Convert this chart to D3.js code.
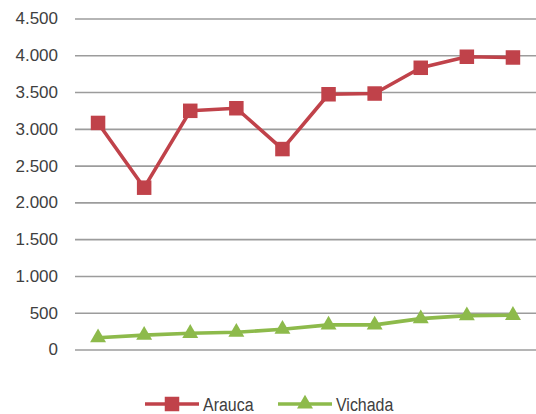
<!DOCTYPE html>
<html>
<head>
<meta charset="utf-8">
<script src="https://cdn.jsdelivr.net/npm/d3@7"></script>
<style>
  html, body { margin: 0; padding: 0; background: #fff; }
  svg { display: block; }
  text { font-family: "Liberation Sans", Arial, sans-serif; fill: #404040; }
</style>
</head>
<body>
<svg id="chart" width="536" height="414"></svg>
<script>
// Data
const categories = ["1", "2", "3", "4", "5", "6", "7", "8", "9", "10"];
const arauca  = [3080, 2200, 3245, 3280, 2725, 3470, 3480, 3830, 3980, 3970];
const vichada = [160, 195, 220, 235, 275, 335, 335, 420, 460, 465];
const yTicks = [0, 500, 1000, 1500, 2000, 2500, 3000, 3500, 4000, 4500];
const seriesNames = ["Arauca", "Vichada"];

const svg = d3.select("#chart");
const margin = { left: 75, right: 0, top: 18.5, bottom: 64.5 };
const W = 536, H = 414;

const x = d3.scalePoint()
  .domain(categories)
  .range([margin.left, W - margin.right])
  .padding(0.5);

const y = d3.scaleLinear()
  .domain([0, 4500])
  .range([H - margin.bottom, margin.top]);

const fmt = d3.formatLocale({ decimal: ",", thousands: ".", grouping: [3], currency: ["$", ""] }).format(",d");

// Horizontal gridlines + tick labels
const yAxis = d3.axisLeft(y)
  .tickValues(yTicks)
  .tickSize(-(W - margin.left - margin.right))
  .tickPadding(17)
  .tickFormat(fmt);

const gy = svg.append("g")
  .attr("transform", `translate(${margin.left},0)`)
  .call(yAxis);
gy.select(".domain").remove();
gy.selectAll(".tick line").attr("stroke", "#9c9c9c").attr("stroke-width", 1.6);
gy.selectAll(".tick text")
  .style("font-size", "17px")
  .style("fill", "#404040");

const red = "#c0424a";
const green = "#8dba4b";

const line = d3.line().x((d, i) => x(categories[i])).y(d => y(d));

// Arauca series
svg.append("path")
  .datum(arauca)
  .attr("fill", "none")
  .attr("stroke", red)
  .attr("stroke-width", 3.6)
  .attr("stroke-linejoin", "round")
  .attr("d", line);

const sq = 14.5;
svg.append("g").selectAll("rect")
  .data(arauca)
  .join("rect")
  .attr("x", (d, i) => x(categories[i]) - sq / 2)
  .attr("y", d => y(d) - sq / 2)
  .attr("width", sq)
  .attr("height", sq)
  .attr("fill", red);

// Vichada series
svg.append("path")
  .datum(vichada)
  .attr("fill", "none")
  .attr("stroke", green)
  .attr("stroke-width", 3.6)
  .attr("stroke-linejoin", "round")
  .attr("d", line);

const tri = d3.symbol().type(d3.symbolTriangle).size(110);
svg.append("g").selectAll("path")
  .data(vichada)
  .join("path")
  .attr("d", tri)
  .attr("transform", (d, i) => `translate(${x(categories[i])},${y(d)})`)
  .attr("fill", green);

// Legend (labels drawn slightly condensed)
const legend = svg.append("g");
const ly = 404;
const items = [
  { name: seriesNames[0], color: red, x0: 145, kind: "square" },
  { name: seriesNames[1], color: green, x0: 278, kind: "triangle" }
];
items.forEach(it => {
  const g = legend.append("g");
  g.append("line")
    .attr("x1", it.x0).attr("x2", it.x0 + 54)
    .attr("y1", ly).attr("y2", ly)
    .attr("stroke", it.color).attr("stroke-width", 3.6);
  if (it.kind === "square") {
    g.append("rect")
      .attr("x", it.x0 + 27 - sq / 2).attr("y", ly - sq / 2)
      .attr("width", sq).attr("height", sq)
      .attr("fill", it.color);
  } else {
    g.append("path")
      .attr("d", tri)
      .attr("transform", `translate(${it.x0 + 27},${ly})`)
      .attr("fill", it.color);
  }
  g.append("text")
    .attr("transform", `translate(${it.x0 + 58},${ly + 6.5}) scale(0.84,1)`)
    .style("font-size", "19px")
    .text(it.name);
});
</script>
</body>
</html>
